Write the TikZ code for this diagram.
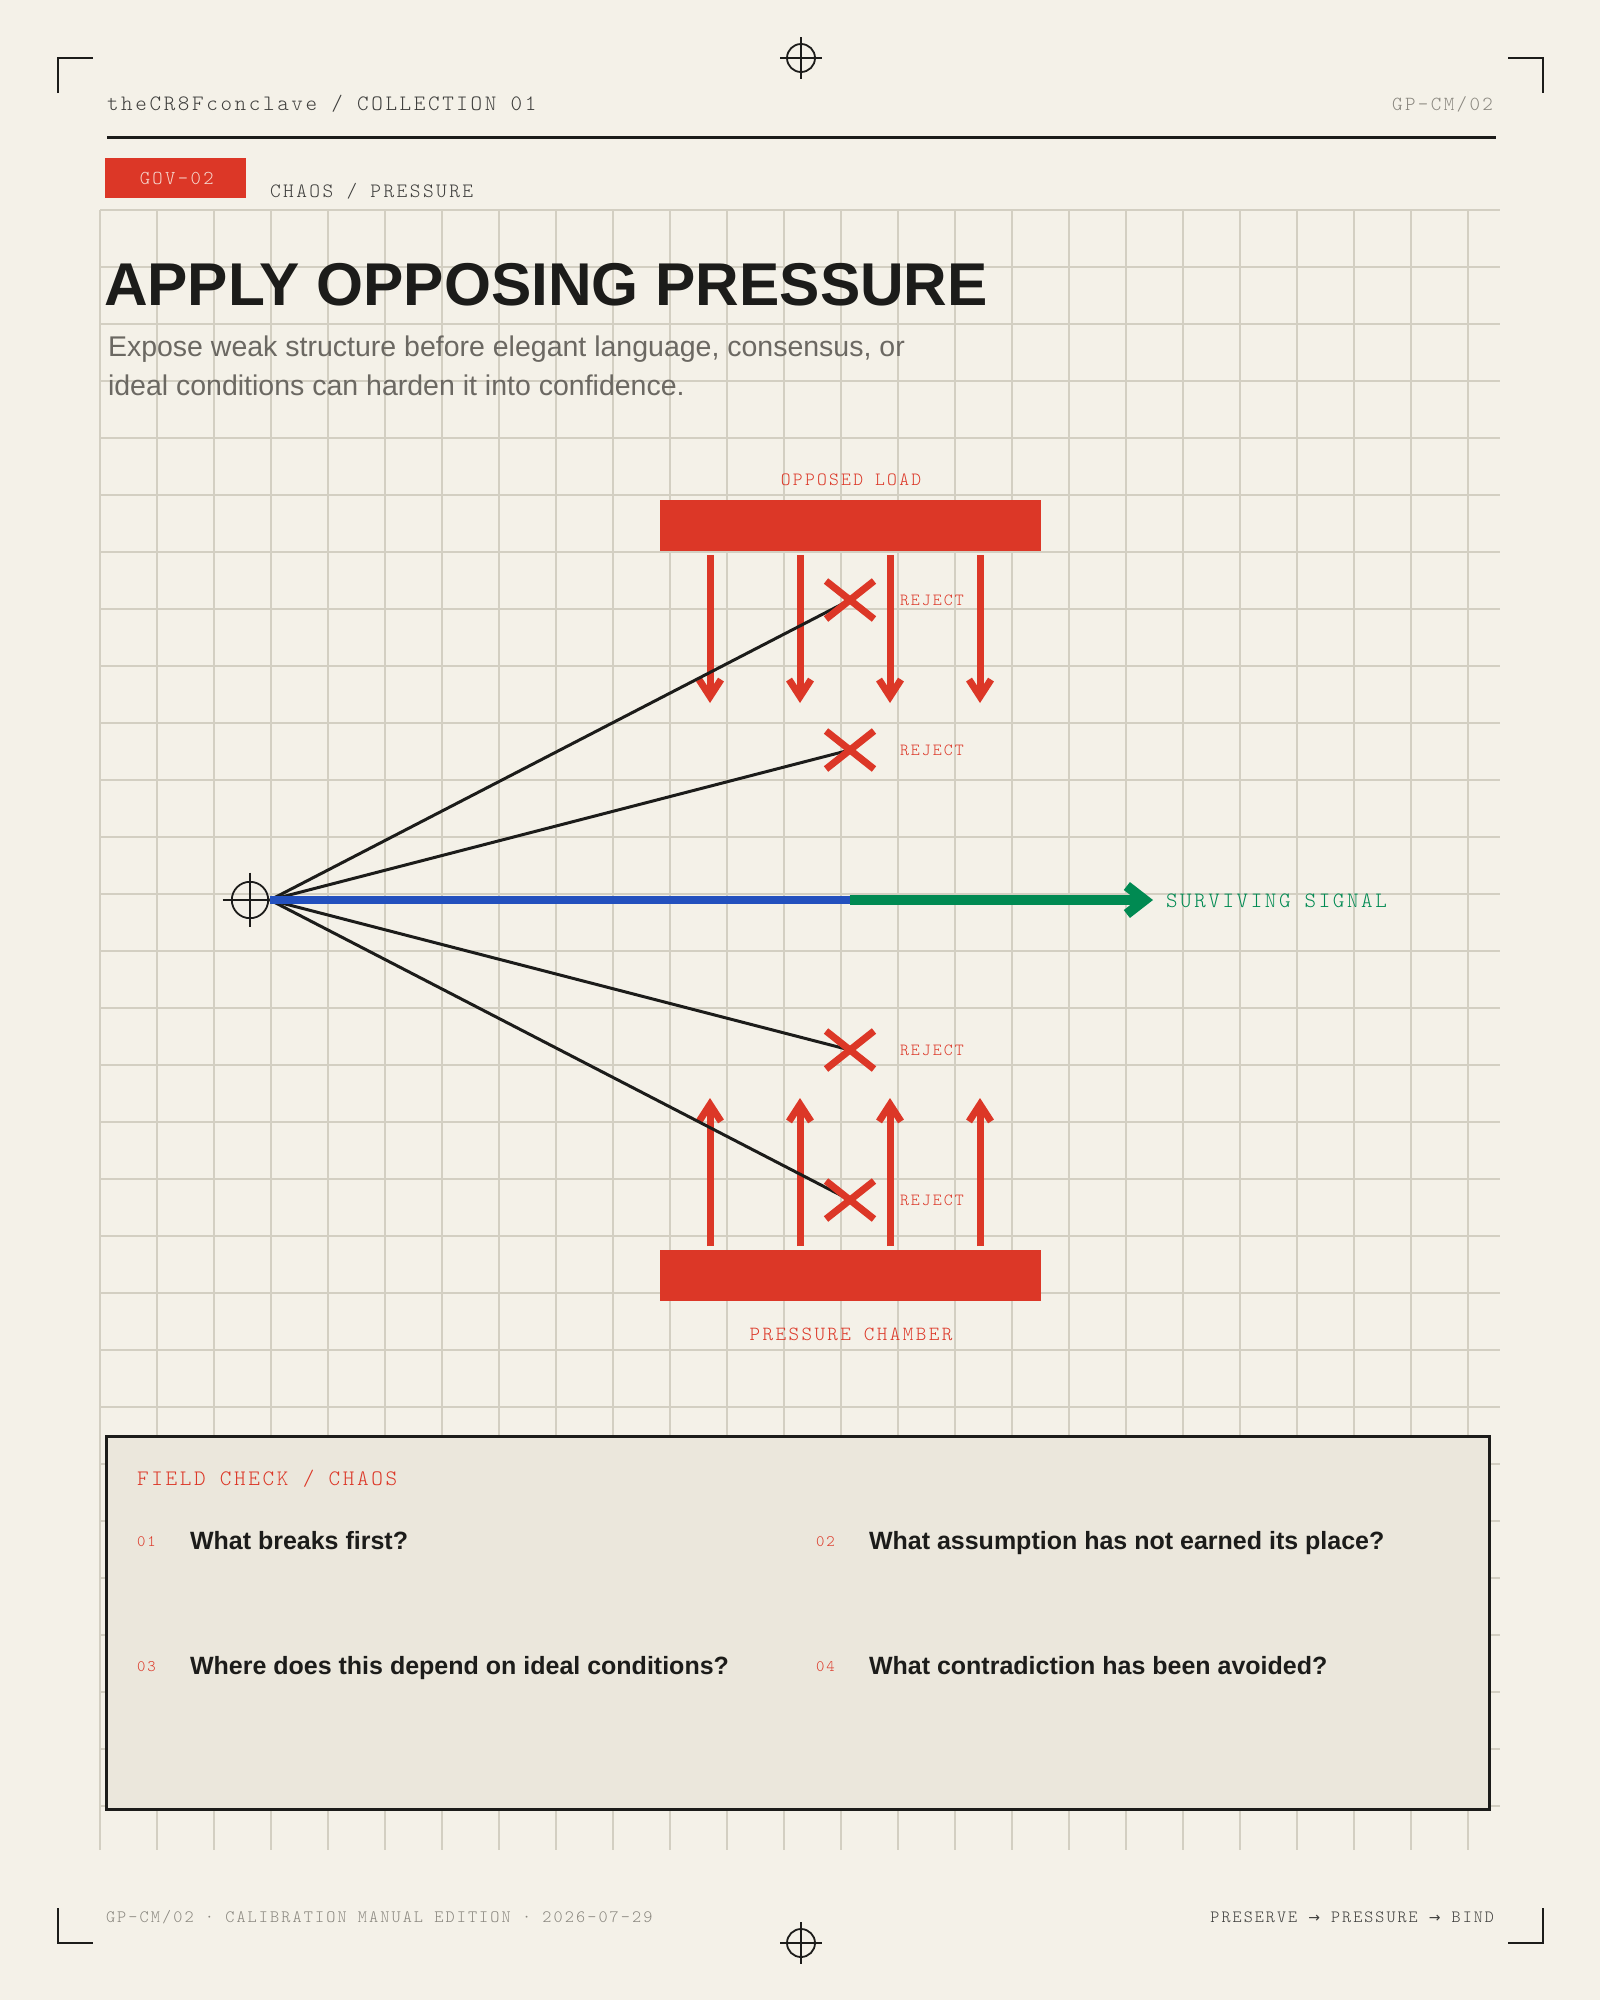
\documentclass[tikz,border=0pt]{standalone}
\usepackage{fontspec}
\setmainfont{Liberation Sans}
\newfontfamily\monof[LetterSpace=12]{lmmonolt10-regular.otf}
\newfontfamily\arrowf{DejaVu Sans}
\usetikzlibrary{arrows.meta}
\newcommand\fsz[1]{\fontsize{#1}{#1}\selectfont}
\definecolor{bgc}{HTML}{F4F1E8}
\definecolor{boxc}{HTML}{EBE7DC}
\definecolor{gridc}{HTML}{D3CFC2}
\definecolor{ink}{HTML}{1C1C1A}
\definecolor{accent}{HTML}{DC3727}
\definecolor{sigg}{HTML}{008A52}
\definecolor{sigb}{HTML}{2350BE}
\definecolor{softg}{HTML}{8A877F}
\definecolor{subg}{HTML}{6B6862}
\definecolor{tagtxt}{HTML}{F6D6CD}
\tikzset{
  txt/.style={inner sep=0pt, outer sep=0pt, anchor=base west},
  gridline/.style={draw=gridc, line width=1.1pt},
  cornermark/.style={draw=ink, line width=2.5pt},
  bar/.style={fill=accent, inner sep=0pt, minimum width=381pt, minimum height=51pt},
  redarrow/.style={draw=accent, line width=7pt, -{Straight Barb[length=17pt, width=22pt]}},
  xline/.style={draw=accent, line width=7pt},
  fan/.style={draw=ink, line width=3pt},
  regmark/.pic={
    \draw[ink, line width=1.8pt] (0,0) circle (14);
    \draw[ink, line width=1.8pt] (-21,0) -- (21,0) (0,-21) -- (0,21);
  }
}
\begin{document}
\begin{tikzpicture}[x=1pt, y=-1pt]
\useasboundingbox (0,0) rectangle (1600,2000);
\fill[bgc] (0,0) rectangle (1600,2000);

% grid
\foreach \i in {0,...,24} \draw[gridline] ({100+57*\i},210) -- ({100+57*\i},1850);
\foreach \j in {0,...,28} \draw[gridline] (100,{210+57*\j}) -- (1500,{210+57*\j});

% corner marks
\draw[cornermark] (58,93) -- (58,58) -- (93,58);
\draw[cornermark] (1508,58) -- (1543,58) -- (1543,93);
\draw[cornermark] (58,1908) -- (58,1943) -- (93,1943);
\draw[cornermark] (1543,1908) -- (1543,1943) -- (1508,1943);

% registration marks
\pic at (801,58) {regmark};
\pic at (801,1943) {regmark};

% header
\node[txt, text=ink!85] (brand) at (107,110) {\monof\fsz{22}theCR8Fconclave / COLLECTION 01};
\node[txt, anchor=base east, text=softg] (code) at (1493,110) {\monof\fsz{20}GP-CM/02};
\draw[ink, line width=3pt] (107,137) -- (1496,137);

% tag
\node[fill=accent, inner sep=0pt, minimum width=141pt, minimum height=40pt, anchor=north west] (tag) at (105,158) {};
\node[inner sep=0pt, text=tagtxt] (tagtxt) at ([xshift=1pt]tag.center) {\monof\fsz{19.7}GOV-02};
\node[txt, text=ink!85] (cat) at (270,197) {\monof\fsz{20.4}CHAOS / PRESSURE};

% title
\node[txt, text=ink] (title) at (104,305) {\fsz{60.4}\bfseries APPLY OPPOSING PRESSURE};
\node[txt, text=subg] (sub1) at (108,356) {\fsz{28.5}Expose weak structure before elegant language, consensus, or};
\node[txt, text=subg] (sub2) at (108,395.5) {\fsz{28.5}ideal conditions can harden it into confidence.};

% diagram bars
\node[bar] (load) at (850.5,525.5) {};
\node[bar] (chamber) at (850.5,1275.5) {};
\node[txt, anchor=base, text=accent] (loadlbl) at (851,485) {\monof\fsz{18.7}OPPOSED LOAD};
\node[txt, anchor=base, text=accent] (chamberlbl) at (851,1340) {\monof\fsz{20.1}PRESSURE CHAMBER};

% pressure arrows
\foreach \x [count=\k] in {710,800,890,980} {
  \coordinate (ds\k) at (\x,555);
  \coordinate (de\k) at (\x,703);
  \coordinate (us\k) at (\x,1246);
  \coordinate (ue\k) at (\x,1098);
  \draw[redarrow] (ds\k) -- (de\k);
  \draw[redarrow] (us\k) -- (ue\k);
}

% origin and rays
\pic[scale=1.3] at (250,900) {regmark};
\coordinate (O) at (270,900);
\coordinate (x1) at (850,600);
\coordinate (x2) at (850,750);
\coordinate (x3) at (850,1050);
\coordinate (x4) at (850,1200);
\foreach \n in {1,2,3,4} \draw[fan] (O) -- (x\n);
\foreach \n in {1,2,3,4} {
  \draw[xline] ([shift={(-24,-19)}]x\n) -- ([shift={(24,19)}]x\n);
  \draw[xline] ([shift={(-24,19)}]x\n) -- ([shift={(24,-19)}]x\n);
}
\node[txt, text=accent] (rej1) at (900,605) {\monof\fsz{17}REJECT};
\node[txt, text=accent] (rej2) at (900,755) {\monof\fsz{17}REJECT};
\node[txt, text=accent] (rej3) at (900,1055) {\monof\fsz{17}REJECT};
\node[txt, text=accent] (rej4) at (900,1205) {\monof\fsz{17}REJECT};

% signal
\coordinate (mid) at (850,900);
\coordinate (tip) at (1153,900);
\draw[sigb, line width=7.5pt] (O) -- (mid);
\draw[sigg, line width=10pt, -{Straight Barb[length=18pt, width=28pt]}] ([xshift=-0.5pt]mid) -- (tip);
\node[txt, text=sigg] (surv) at (1166,907) {\monof\fsz{21.9}SURVIVING SIGNAL};

% field check box
\draw[fill=boxc, draw=ink, line width=3pt] (106,1436) rectangle (1489,1809);
\node[txt, text=accent] (fc) at (137,1485) {\monof\fsz{22.1}FIELD CHECK / CHAOS};
\node[txt, text=accent] (n1) at (137,1546) {\monof\fsz{16}01};
\node[txt, text=ink] (q1) at (190,1549) {\fsz{25}\bfseries What breaks first?};
\node[txt, text=accent] (n2) at (816,1546) {\monof\fsz{16}02};
\node[txt, text=ink] (q2) at (869,1549) {\fsz{25}\bfseries What assumption has not earned its place?};
\node[txt, text=accent] (n3) at (137,1671) {\monof\fsz{16}03};
\node[txt, text=ink] (q3) at (190,1674) {\fsz{25}\bfseries Where does this depend on ideal conditions?};
\node[txt, text=accent] (n4) at (816,1671) {\monof\fsz{16}04};
\node[txt, text=ink] (q4) at (869,1674) {\fsz{25}\bfseries What contradiction has been avoided?};

% footer
\node[txt, text=softg] (foot1) at (106,1922) {\monof\fsz{17.4}GP-CM/02 · CALIBRATION MANUAL EDITION · 2026-07-29};
\node[txt, anchor=base east, text=ink!85] (foot2) at (1494,1922) {\monof\fsz{17.2}PRESERVE {\arrowf\fsz{14}→} PRESSURE {\arrowf\fsz{14}→} BIND};
\end{tikzpicture}
\end{document}
